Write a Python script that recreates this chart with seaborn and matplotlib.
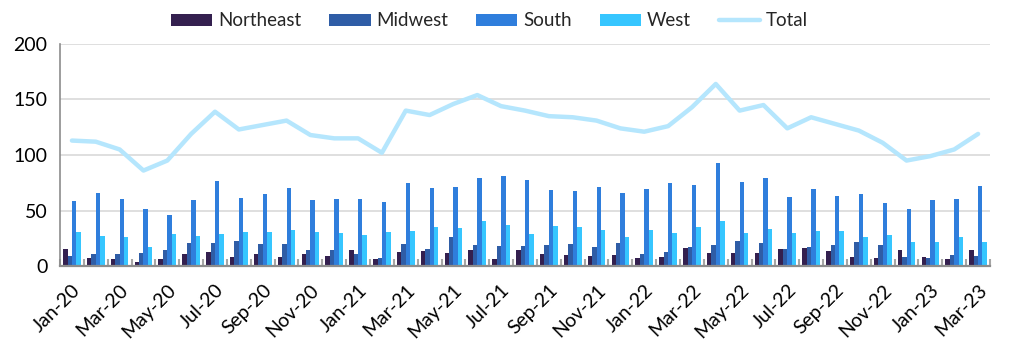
import numpy as np
import pandas as pd
import matplotlib
matplotlib.use("Agg")
import matplotlib.pyplot as plt
import seaborn as sns

# Monthly counts by region, Jan-2020 .. Mar-2023
months = pd.date_range("2020-01-01", "2023-03-01", freq="MS").strftime("%b-%y").tolist()

northeast = [15.3, 7.2, 6.3, 3.9, 6.3, 10.8, 12.6, 7.8, 11.1, 7.8, 11.1, 9.0,
             14.7, 6.0, 12.6, 13.5, 12.0, 14.1, 6.6, 14.4, 11.1, 9.9, 8.7, 9.6,
             7.2, 8.1, 16.5, 11.7, 11.4, 11.4, 15.6, 15.9, 13.2, 8.1, 7.2, 14.1,
             8.4, 6.3, 14.7]
midwest = [8.7, 10.5, 11.1, 12.0, 14.1, 20.7, 20.7, 22.2, 19.5, 20.1, 14.7, 14.7,
           10.8, 6.9, 19.8, 15.6, 26.1, 19.2, 18.0, 17.7, 18.6, 19.8, 16.8, 21.0,
           10.8, 12.9, 17.1, 19.2, 22.8, 20.4, 15.3, 17.1, 18.9, 21.9, 18.6, 7.8,
           6.9, 10.2, 9.3]
south = [58.7, 66.2, 60.0, 51.3, 45.6, 59.6, 76.4, 61.7, 65.0, 70.4, 59.6, 60.2,
         60.5, 57.8, 74.9, 70.1, 71.6, 79.1, 80.9, 77.9, 68.3, 67.7, 71.6, 65.9,
         69.5, 74.9, 72.8, 92.6, 75.8, 79.4, 62.3, 69.2, 62.9, 65.0, 56.9, 51.3,
         59.6, 60.0, 72.5]
west = [30.2, 26.7, 26.4, 16.8, 28.5, 27.0, 28.5, 30.8, 30.2, 32.7, 30.8, 29.9,
        28.2, 30.8, 31.8, 35.1, 34.2, 40.7, 37.2, 29.1, 36.0, 35.1, 32.7, 26.4,
        32.7, 29.4, 35.4, 40.1, 29.7, 33.0, 29.9, 31.8, 31.8, 26.1, 27.6, 21.3,
        21.9, 26.4, 21.3]
total = [113, 112, 105, 86, 95, 119, 139, 123, 127, 131, 118, 115,
         115, 102, 140, 136, 146, 154, 144, 140, 135, 134, 131, 124,
         121, 126, 143, 164, 140, 145, 124, 134, 128, 122, 111, 95,
         99, 105, 119]

regions = ["Northeast", "Midwest", "South", "West"]
colors = {"Northeast": "#34204F", "Midwest": "#2F5DA6", "South": "#2F7EDC",
          "West": "#36C6FF"}
total_color = "#B5E6FD"

df = pd.DataFrame({"Month": months, "Northeast": northeast, "Midwest": midwest,
                   "South": south, "West": west})
long = df.melt(id_vars="Month", value_vars=regions, var_name="Region", value_name="Value")

sns.set_theme(style="white")
plt.rcParams["font.family"] = ["Lato", "DejaVu Sans"]

fig = plt.figure(figsize=(10.24, 3.5), dpi=100)
ax = fig.add_axes([60 / 1024, 1 - 266 / 350, 930 / 1024, 222 / 350])

sns.barplot(data=long, x="Month", y="Value", hue="Region", hue_order=regions,
            order=months, palette=colors, width=0.74, ax=ax, saturation=1,
            edgecolor="none", legend=True)
sns.lineplot(x=np.arange(len(months)), y=total, color=total_color, linewidth=3.2,
             ax=ax, label="Total")

ax.set_xlim(-0.5, len(months) - 0.5)
ax.set_ylim(0, 200)
ax.set_yticks([0, 50, 100, 150, 200])
ax.yaxis.grid(True, color="#D9D9D9", linewidth=1.2)
ax.set_axisbelow(True)
ax.set_xlabel("")
ax.set_ylabel("")

for s in ["top", "right"]:
    ax.spines[s].set_visible(False)
ax.spines["left"].set_color("#8C8C8C")
ax.spines["bottom"].set_color("#8C8C8C")
ax.spines["left"].set_linewidth(1.2)
ax.spines["bottom"].set_linewidth(1.6)

ax.set_xticks(np.arange(0, len(months), 2))
ax.set_xticklabels(months[::2], rotation=45, ha="right", rotation_mode="anchor",
                   fontsize=14, color="#000000")
ax.set_xticks(np.arange(-0.5, len(months), 1), minor=True)
ax.tick_params(axis="x", which="major", length=0, pad=11)
ax.tick_params(axis="x", which="minor", direction="in", length=5, width=1.5,
               color="#A6A6A6", bottom=True)
ax.tick_params(axis="y", length=0, labelsize=14, pad=9, labelcolor="#000000")

handles, labels = ax.get_legend_handles_labels()
ax.get_legend().remove()
fig.legend(handles, labels, loc="center", bbox_to_anchor=(0.478, 0.94), ncol=5,
           frameon=False, fontsize=13.5, handlelength=2.2, handleheight=0.6,
           columnspacing=1.5, handletextpad=0.3)

fig.savefig("out.png", dpi=100)
